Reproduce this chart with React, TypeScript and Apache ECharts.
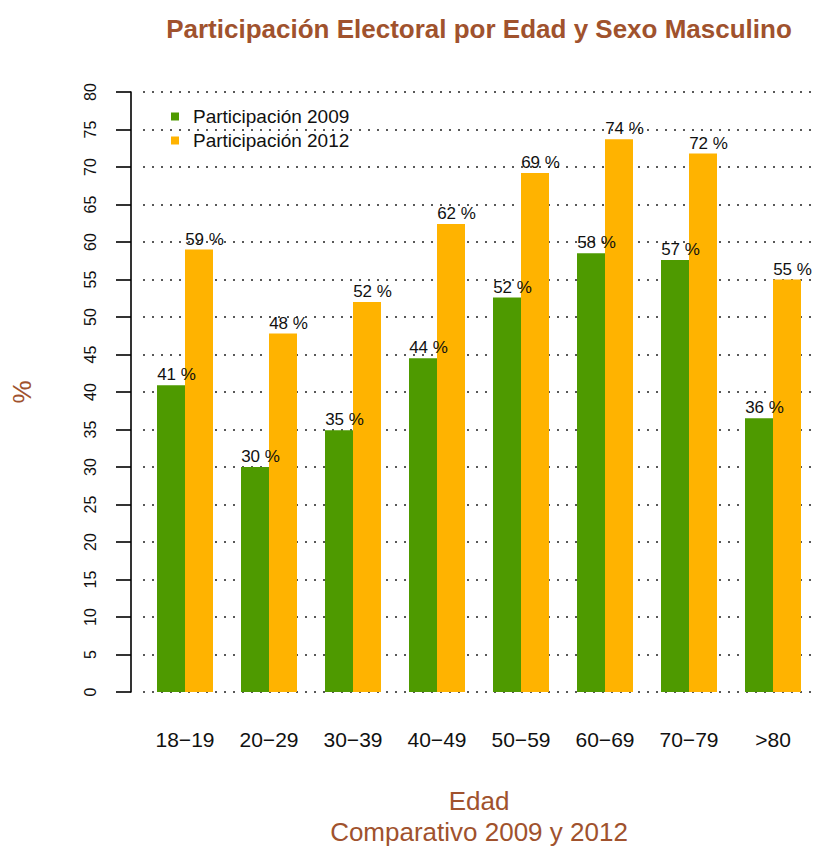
import React, { useEffect, useRef } from "react";
import * as echarts from "echarts";

const categories = ["18−19", "20−29", "30−39", "40−49", "50−59", "60−69", "70−79", ">80"];
const values2009 = [40.9, 30.0, 34.9, 44.5, 52.6, 58.5, 57.6, 36.5];
const values2012 = [59.0, 47.8, 52.0, 62.4, 69.2, 73.7, 71.8, 55.0];
const labels2009 = ["41", "30", "35", "44", "52", "58", "57", "36"];
const labels2012 = ["59", "48", "52", "62", "69", "74", "72", "55"];
const seriesNames = ["Participación 2009", "Participación 2012"];
const yTicks = { min: 0, max: 80, interval: 5 };

const GREEN = "#4E9A00";
const ORANGE = "#FFB300";
const SIENNA = "#A0522D";
const FONT = "Liberation Sans, Arial, Helvetica, sans-serif";

export default function App() {
  const ref = useRef<HTMLDivElement>(null);
  useEffect(() => {
    if (!ref.current) return;
    const chart = echarts.init(ref.current, null, { renderer: "svg" });
    const valueLabel = (labels: string[]) => ({
      show: true,
      position: "top",
      distance: 2,
      offset: [5.5, 0],
      color: "#111",
      fontSize: 17,
      fontFamily: FONT,
      formatter: (p: any) => labels[p.dataIndex] + " %",
    });
    chart.setOption({
      animation: false,
      backgroundColor: "#fff",
      textStyle: { fontFamily: FONT },
      title: {
        text: "Participación Electoral por Edad y Sexo Masculino",
        left: 479,
        textAlign: "center",
        top: 16,
        padding: 0,
        textStyle: { color: SIENNA, fontSize: 26, fontWeight: "bold", fontFamily: FONT },
      },
      legend: {
        orient: "vertical",
        left: 171,
        top: 107,
        padding: 0,
        itemWidth: 8,
        itemHeight: 8,
        itemGap: 5,
        icon: "rect",
        data: seriesNames,
        textStyle: { fontSize: 19, color: "#111", fontFamily: FONT, padding: [0, 0, 0, 9], lineHeight: 19 },
      },
      grid: { left: 143, right: 2, top: 92, bottom: 155, containLabel: false, outerBoundsMode: "none" },
      xAxis: {
        type: "category",
        data: categories,
        axisLine: { show: false },
        axisTick: { show: false },
        axisLabel: { color: "#111", fontSize: 21, margin: 37, fontFamily: FONT },
        name: "Edad",
        nameLocation: "middle",
        nameGap: 96,
        nameTextStyle: { color: SIENNA, fontSize: 26, fontFamily: FONT },
      },
      yAxis: {
        type: "value",
        min: yTicks.min,
        max: yTicks.max,
        interval: yTicks.interval,
        offset: 12,
        axisLine: { show: true, lineStyle: { color: "#000", width: 1.6 } },
        axisTick: { show: true, length: 15, lineStyle: { color: "#000", width: 1.6 } },
        axisLabel: { color: "#111", fontSize: 16, rotate: 90, margin: 33, fontFamily: FONT },
        splitLine: { show: true, lineStyle: { color: "#222", width: 1.5, type: [2, 7] } },
        name: "%",
        nameLocation: "middle",
        nameGap: 96,
        nameRotate: 90,
        nameTextStyle: { color: SIENNA, fontSize: 26, fontFamily: FONT },
      },
      graphic: [
        {
          type: "text",
          x: 479,
          y: 832,
          style: {
            text: "Comparativo 2009 y 2012",
            fill: SIENNA,
            fontSize: 26,
            fontFamily: FONT,
            textAlign: "center",
            textVerticalAlign: "middle",
          },
        },
      ],
      series: [
        {
          name: seriesNames[0],
          type: "bar",
          data: values2009,
          barWidth: 28,
          barGap: "0%",
          itemStyle: { color: GREEN },
          label: valueLabel(labels2009),
        },
        {
          name: seriesNames[1],
          type: "bar",
          data: values2012,
          barWidth: 28,
          barGap: "0%",
          itemStyle: { color: ORANGE },
          label: valueLabel(labels2012),
        },
      ],
    });
    return () => chart.dispose();
  }, []);
  return <div ref={ref} style={{ width: 817, height: 847, position: "fixed", left: 0, top: 0 }} />;
}
